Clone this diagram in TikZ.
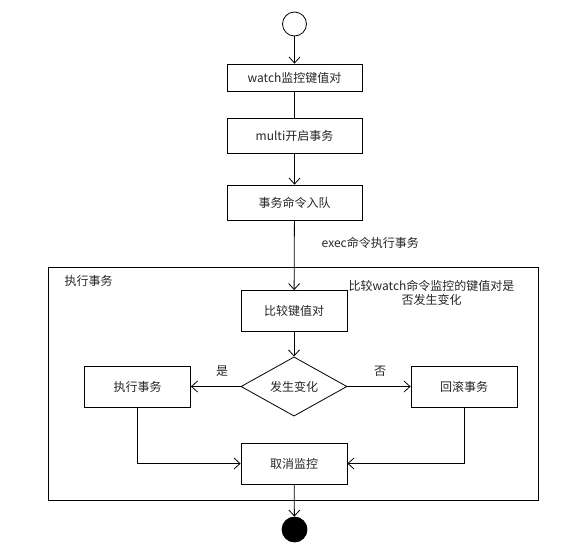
\documentclass[tikz,border=0pt]{standalone}
\usepackage{fontspec}
\setmainfont{Noto Sans CJK SC}
\usetikzlibrary{shapes.geometric,arrows.meta}
\begin{document}
\begin{tikzpicture}[x=1pt,y=-1pt,line width=0.8pt,
	>={Straight Barb[length=6pt,width=11pt]},
	every node/.style={font=\fontsize{12}{14}\selectfont,text=black!85},
	stepbox/.style={draw,minimum width=106pt,minimum height=41pt,inner sep=2pt},
	topbox/.style={draw,minimum width=135pt,minimum height=35pt,inner sep=2pt},
	choice/.style={draw,diamond,minimum width=106pt,minimum height=47pt,inner sep=0pt}]
	\useasboundingbox (0,0) rectangle (588,550);
	\fill[white] (0,0) rectangle (588,550);
	\node[draw,circle,minimum size=24pt] (start) at (294.5,24) {};
	\node[topbox,minimum height=27pt] (watch) at (294.5,77.5) {watch监控键值对};
	\node[topbox] (multi) at (294.5,135.5) {multi开启事务};
	\node[topbox] (queue) at (294.5,202.5) {事务命令入队};
	\node[anchor=west] (execlabel) at (318,243) {exec命令执行事务};
	\draw (48.5,267) rectangle (538.5,500);
	\node[anchor=west] (framelabel) at (61,281) {执行事务};
	\node[align=center,font=\fontsize{12}{14}\selectfont] (note) at (431.5,293) {比较watch命令监控的键值对是\\否发生变化};
	\node[stepbox] (compare) at (294,311) {比较键值对};
	\node[choice] (changed) at (294,386.5) {发生变化};
	\node[stepbox] (doexec) at (137.5,386.5) {执行事务};
	\node[stepbox] (rollback) at (464,386.5) {回滚事务};
	\node (yes) at (222,371) {是};
	\node (no) at (380,371) {否};
	\node[stepbox] (unwatch) at (294,463.5) {取消监控};
	\node[draw,circle,fill=black,minimum size=25pt] (stop) at (294.5,529.5) {};
	\draw[->] (start) -- (watch);
	\draw (watch) -- (multi);
	\draw[->] (multi) -- (queue);
	\draw[->] (queue) -- (compare);
	\draw[->] (compare) -- (changed);
	\draw[->] (changed.west) -- (doexec.east);
	\draw[->] (changed.east) -- (rollback.west);
	\draw[->] (doexec.south) |- (unwatch.west);
	\draw[->] (rollback.south) |- (unwatch.east);
	\draw[->] (unwatch) -- (stop);
\end{tikzpicture}
\end{document}
